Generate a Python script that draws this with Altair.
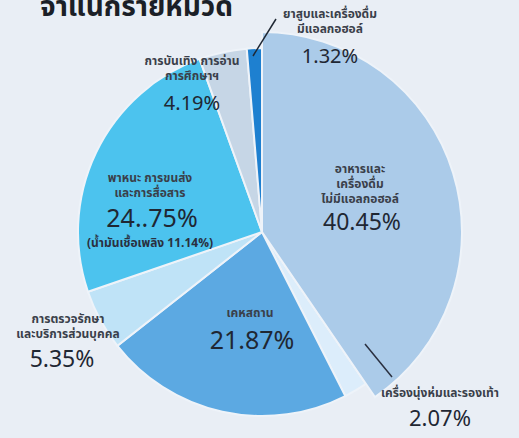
import altair as alt
import pandas as pd

categories = [
    "อาหารและเครื่องดื่มไม่มีแอลกอฮอล์",
    "เครื่องนุ่งห่มและรองเท้า",
    "เคหสถาน",
    "การตรวจรักษาและบริการส่วนบุคคล",
    "พาหนะ การขนส่งและการสื่อสาร",
    "การบันเทิง การอ่าน การศึกษาฯ",
    "ยาสูบและเครื่องดื่มมีแอลกอฮอล์",
]
shares = [40.45, 2.07, 21.87, 5.35, 24.75, 4.19, 1.32]
colors = ["#abcbe9", "#dcedfb", "#5ca9e2", "#bfe3f7", "#4cc3ee", "#c6d6e6", "#1e80d0"]

label_lines = [
    ["อาหารและ", "เครื่องดื่ม", "ไม่มีแอลกอฮอล์"],
    ["เครื่องนุ่งห่มและรองเท้า"],
    ["เคหสถาน"],
    ["การตรวจรักษา", "และบริการส่วนบุคคล"],
    ["พาหนะ การขนส่ง", "และการสื่อสาร"],
    ["การบันเทิง การอ่าน", "การศึกษาฯ"],
    ["ยาสูบและเครื่องดื่ม", "มีแอลกอฮอล์"],
]
pct_labels = ["40.45%", "2.07%", "21.87%", "5.35%", "24..75%", "4.19%", "1.32%"]
note_text = "(น้ำมันเชื้อเพลิง 11.14%)"
title_text = "จำแนกรายหมวด"

df = pd.DataFrame({
    "cat": categories,
    "share": shares,
    "idx": list(range(len(categories))),
})

FONT = "Noto Sans Thai, Noto Sans, sans-serif"
CX, CY = 262, 232

base_enc = dict(
    theta=alt.Theta("share:Q", stack=True),
    order=alt.Order("idx:Q"),
    color=alt.Color("cat:N", scale=alt.Scale(domain=categories, range=colors), legend=None),
    x=alt.value(CX),
    y=alt.value(CY),
)

pie = alt.Chart(df).mark_arc(stroke="#eef3f9", strokeWidth=2, radius=184).encode(**base_enc)
pie_big = alt.Chart(df).mark_arc(stroke="#eef3f9", strokeWidth=2, radius=200).encode(
    opacity=alt.condition(alt.datum.idx == 0, alt.value(1), alt.value(0)),
    **base_enc,
)

# label placement (layout only)
label_pos = [(360, 169), (440, 393), (250, 313), (68, 319), (150, 178), (192, 61), (330, 14)]
pct_pos_size = [(362, 223, 23), (440, 419, 22), (252, 341, 25), (62, 360, 23), (152, 219, 25), (192, 104, 20), (330, 57, 20)]

layers = [pie, pie_big]
for i in range(len(categories)):
    lx, ly = label_pos[i]
    lines = label_lines[i]
    layers.append(
        alt.Chart(df).transform_filter(alt.datum.idx == i).mark_text(
            text=lines, x=lx, y=ly, fontSize=12, lineHeight=15, font=FONT,
            fontWeight="bold", color="#3a3f4a", align="center", baseline="middle",
        ).encode(opacity=alt.value(1))
    )
    px, py, ps = pct_pos_size[i]
    layers.append(
        alt.Chart(df).transform_filter(alt.datum.idx == i).mark_text(
            text=pct_labels[i], x=px, y=py, fontSize=ps, font=FONT,
            color="#1f2733", align="center", baseline="middle",
        ).encode(opacity=alt.value(1))
    )

note = alt.Chart(df).transform_filter(alt.datum.idx == 4).mark_text(
    text=note_text, x=150, y=243, fontSize=12, font=FONT, fontWeight="bold",
    color="#2a3040", align="center", baseline="middle",
).encode(opacity=alt.value(1))

title = alt.Chart(df).transform_filter(alt.datum.idx == 0).mark_text(
    text=title_text, x=40, y=16, fontSize=28, font=FONT, fontWeight="bold",
    color="#1b1f27", align="left", baseline="alphabetic",
).encode(opacity=alt.value(1))

lead1 = alt.Chart(df).transform_filter(alt.datum.idx == 6).mark_rule(
    color="#1f2733", strokeWidth=1.5
).encode(x=alt.value(276), x2=alt.value(253), y=alt.value(19), y2=alt.value(56))

lead2 = alt.Chart(df).transform_filter(alt.datum.idx == 1).mark_rule(
    color="#2a3040", strokeWidth=1.5
).encode(x=alt.value(365), x2=alt.value(392), y=alt.value(344), y2=alt.value(377))

chart = alt.layer(*layers, note, title, lead1, lead2).properties(
    width=519, height=438, background="#e9eef5",
    autosize=alt.AutoSizeParams(type="none"), padding=0,
).configure_view(strokeWidth=0)

chart.save("out.html", embed_options={"renderer": "svg", "actions": False})
